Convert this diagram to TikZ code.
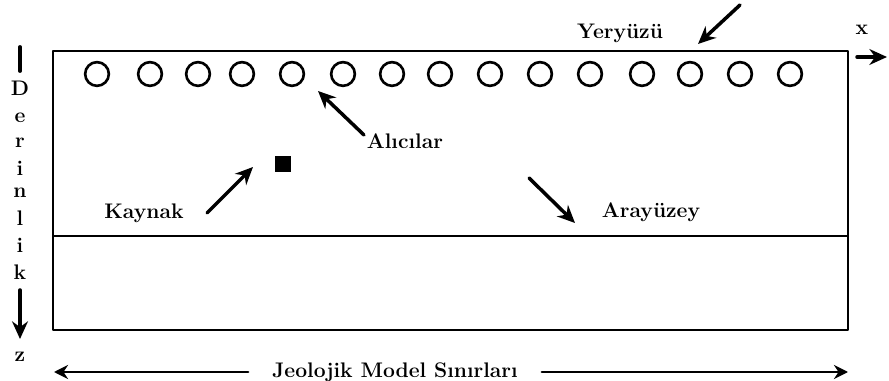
\documentclass[tikz,border=0pt]{standalone}
\usetikzlibrary{arrows.meta}
\tikzset{
  lbl/.style={font=\fontsize{12}{14}\selectfont\bfseries, inner sep=1pt},
  bigarrow/.style={line width=2pt, -{Stealth[length=10pt, width=9pt]}},
  receiver/.style={circle, draw, line width=1.5pt, minimum size=13.5pt, inner sep=0pt}
}
\begin{document}
\begin{tikzpicture}[x=0.02cm, y=-0.02cm, line cap=round, line join=round]
    \useasboundingbox (0,0) rectangle (889,381);
    % model frame and interface
    \draw[line width=0.8pt] (53,51) rectangle (848,330);
    \draw[line width=0.8pt] (53,236) -- (848,236);
    % receivers along the surface
    \foreach \x [count=\i] in {97,150,198,242,292,343,392,440,490,540,590,642,690,740,790}
      \node[receiver] (r\i) at (\x,74) {};
    % source
    \node[fill, minimum size=9pt, inner sep=0pt] (src) at (283,164) {};
    % labels
    \node[lbl] (yeryuzu) at (620,33) {Yeryüzü};
    \node[lbl] (alicilar) at (405,141) {Alıcılar};
    \node[lbl] (kaynak) at (144,213) {Kaynak};
    \node[lbl] (arayuzey) at (651,212) {Arayüzey};
    \node[lbl] (xlbl) at (862,30) {x};
    \node[lbl] (zlbl) at (20,357) {z};
    \node[lbl] (sinir) at (395,372) {Jeolojik Model Sınırları};
    \foreach \c/\y [count=\i] in {D/88,e/118,r/143,i/168,n/193,l/218,i/245,k/272}
      \node[lbl] (d\i) at (20,\y) {\c};
    % pointer arrows
    \coordinate (yer-tail) at (740,5);
    \coordinate (yer-tip) at (698,44);
    \coordinate (alc-tail) at (364,135);
    \coordinate (alc-tip) at (318,91);
    \coordinate (kay-tail) at (207,213);
    \coordinate (kay-tip) at (253,167);
    \coordinate (ara-tail) at (529,178);
    \coordinate (ara-tip) at (575,223);
    \draw[bigarrow] (yer-tail) -- (yer-tip);
    \draw[bigarrow] (alc-tail) -- (alc-tip);
    \draw[bigarrow] (kay-tail) -- (kay-tip);
    \draw[bigarrow] (ara-tail) -- (ara-tip);
    % axes
    \coordinate (x-end) at (887,57);
    \coordinate (z-top) at (20,47);
    \coordinate (z-end) at (20,339);
    \draw[bigarrow] (857,57) -- (x-end);
    \draw[line width=2.2pt] (z-top) -- (20,71);
    \draw[bigarrow] (20,290) -- (z-end);
    % model limits
    \coordinate (lim-l) at (54,372);
    \coordinate (lim-r) at (848,372);
    \draw[line width=1.5pt, -{Stealth[length=8pt, width=8pt]}] (sinir.west) ++(-22,0) -- (lim-l);
    \draw[line width=1.5pt, -{Stealth[length=8pt, width=8pt]}] (sinir.east) ++(22,0) -- (lim-r);
\end{tikzpicture}
\end{document}
